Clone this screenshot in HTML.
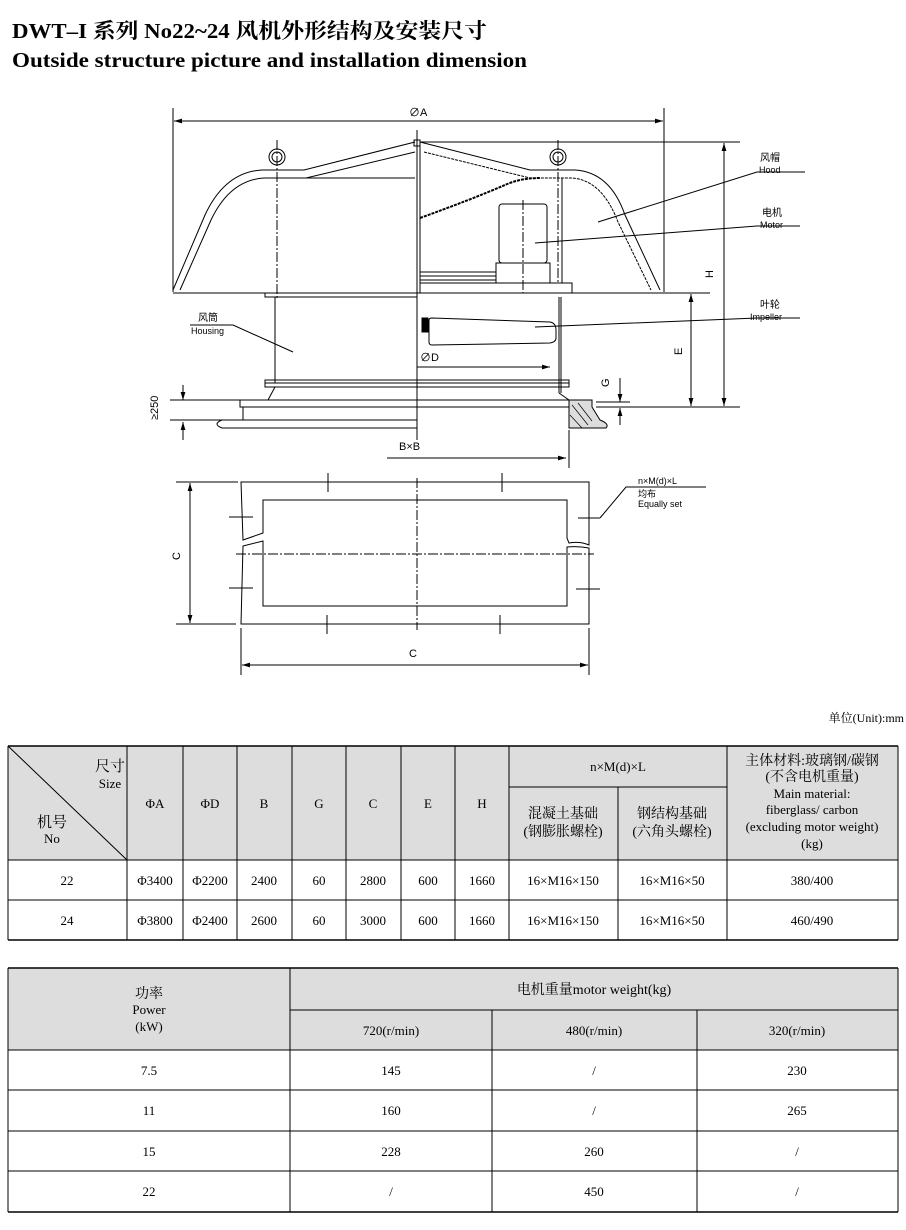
<!DOCTYPE html>
<html><head><meta charset="utf-8"><style>
html,body{margin:0;padding:0;background:#fff;}
svg{display:block;}
.t{font-family:"Liberation Serif","Noto Serif CJK SC",serif;}
.s{font-family:"Liberation Sans","Noto Sans CJK SC",sans-serif;}
</style></head><body>
<svg width="906" height="1230" viewBox="0 0 906 1230" xmlns="http://www.w3.org/2000/svg">
<defs>
<marker id="ar" viewBox="0 0 10 10" refX="10" refY="5" markerWidth="8" markerHeight="8" orient="auto-start-reverse"><path d="M0,2 L10,5 L0,8 z" fill="#000"/></marker>
</defs>
<text x="12" y="38" class="t" font-size="21" font-weight="bold" textLength="475" lengthAdjust="spacingAndGlyphs">DWT–I 系列 No22~24 风机外形结构及安装尺寸</text>
<text x="12" y="67" class="t" font-size="21" font-weight="bold" textLength="515" lengthAdjust="spacingAndGlyphs">Outside structure picture and installation dimension</text>

<g fill="none" stroke="#000" stroke-width="1">
<line x1="173" y1="108" x2="173" y2="292"/><line x1="664" y1="108" x2="664" y2="292"/>
<line x1="174" y1="121" x2="663" y2="121" marker-start="url(#ar)" marker-end="url(#ar)"/>
<path d="M173,290 L205,215 Q225,172 262,170 L304,170 L415,142"/>
<path d="M180,290 L211,220 Q230,180 264,178 L306,178 L415,152"/>
<line x1="306" y1="178" x2="415" y2="178"/>
<path d="M420,142 L530,170 L575,170 Q610,172 625,215 L660,290"/>
<path d="M424,152 L530,178 L572,178 Q602,180 618,222 L651,290" stroke-dasharray="3,1"/>
<path d="M420,218 Q470,200 505,185 Q520,178 540,178" stroke-width="2" stroke-dasharray="3,1"/>
<line x1="173" y1="293" x2="664" y2="293"/>
<rect x="414" y="140" width="6" height="6"/>
<line x1="417" y1="130" x2="417" y2="440"/>
<line x1="420" y1="146" x2="420" y2="293"/>
<circle cx="277" cy="157" r="8"/><circle cx="277" cy="157" r="5"/>
<circle cx="558" cy="157" r="8"/><circle cx="558" cy="157" r="5"/>
<line x1="277" y1="140" x2="277" y2="300" stroke-dasharray="10,2,2,2"/>
<line x1="558" y1="140" x2="558" y2="283" stroke-dasharray="10,2,2,2"/>
<line x1="562" y1="178" x2="562" y2="283"/>
<rect x="499" y="204" width="48" height="59" rx="3"/>
<line x1="523" y1="200" x2="523" y2="293" stroke-dasharray="10,2,2,2"/>
<rect x="496" y="263" width="54" height="20"/>
<line x1="420" y1="272" x2="496" y2="272"/><line x1="420" y1="276" x2="496" y2="276"/><line x1="420" y1="280" x2="496" y2="280"/>
<rect x="420" y="283" width="152" height="10"/>
<rect x="265" y="293" width="152" height="4"/>
<line x1="275" y1="297" x2="275" y2="383"/>
<line x1="559" y1="297" x2="559" y2="393"/>
<line x1="561" y1="297" x2="561" y2="393"/>
<rect x="265" y="380" width="304" height="7"/>
<line x1="265" y1="383" x2="569" y2="383"/>
<path d="M432,318 L550,322 Q556,323 556,330 L556,338 Q556,342 550,343 L432,345 Q429,345 429,342 L429,320 Q429,318 432,318 z"/>
<rect x="422" y="318" width="6" height="14" fill="#000"/>
<line x1="417" y1="367" x2="550" y2="367" marker-end="url(#ar)"/>
<line x1="275" y1="387" x2="268" y2="400"/><line x1="559" y1="393" x2="569" y2="400"/>
<rect x="240" y="400" width="329" height="7"/>
<line x1="243" y1="407" x2="243" y2="420"/>
<line x1="200" y1="420" x2="417" y2="420"/>
<path d="M222,428 L417,428 M222,428 Q212,424 222,420"/>
<path d="M569,400 L592,400 L592,407 L600,420 Q610,424 606,428 L569,428 z" fill="#ddd"/>
<path d="M572,405 L588,425 M578,403 L592,421 M570,415 L582,428" stroke-width="0.7"/>
<line x1="183" y1="385" x2="183" y2="400" marker-end="url(#ar)"/>
<line x1="183" y1="440" x2="183" y2="422" marker-end="url(#ar)"/>
<line x1="170" y1="400" x2="240" y2="400"/><line x1="170" y1="420" x2="220" y2="420"/>
<line x1="420" y1="142" x2="740" y2="142"/><line x1="620" y1="293" x2="710" y2="293"/>
<line x1="596" y1="407" x2="740" y2="407"/><line x1="596" y1="402" x2="630" y2="402"/>
<line x1="724" y1="143" x2="724" y2="406" marker-start="url(#ar)" marker-end="url(#ar)"/>
<line x1="691" y1="294" x2="691" y2="406" marker-start="url(#ar)" marker-end="url(#ar)"/>
<line x1="620" y1="378" x2="620" y2="402" marker-end="url(#ar)"/>
<line x1="620" y1="425" x2="620" y2="408" marker-end="url(#ar)"/>
<line x1="569" y1="430" x2="569" y2="468"/>
<line x1="387" y1="458" x2="566" y2="458" marker-end="url(#ar)"/>
<path d="M598,222 L757,172 L805,172"/>
<path d="M535,243 L757,226 L800,226"/>
<path d="M535,327 L757,318 L800,318"/>
<path d="M190,325 L233,325 L293,352"/>
<path d="M241,482 L589,482 L589,545 Q580,541 569,543 L567,538 L567,500 L263,500 L263,533 L243,540 z"/>
<path d="M243,546 L263,541 L263,606 L567,606 L567,547 Q578,546 589,548 L589,624 L241,624 z"/>
<line x1="417" y1="478" x2="417" y2="630" stroke-dasharray="10,2,2,2"/>
<line x1="236" y1="554" x2="594" y2="554" stroke-dasharray="10,2,2,2"/>
<line x1="328" y1="473" x2="328" y2="492"/><line x1="502" y1="473" x2="502" y2="492"/>
<line x1="327" y1="615" x2="327" y2="634"/><line x1="500" y1="615" x2="500" y2="634"/>
<line x1="229" y1="517" x2="253" y2="517"/><line x1="229" y1="588" x2="253" y2="588"/>
<line x1="578" y1="518" x2="600" y2="518"/><line x1="576" y1="589" x2="600" y2="589"/>
<path d="M600,518 L626,487 L706,487"/>
<line x1="176" y1="482" x2="238" y2="482"/><line x1="176" y1="624" x2="236" y2="624"/>
<line x1="190" y1="483" x2="190" y2="623" marker-start="url(#ar)" marker-end="url(#ar)"/>
<line x1="241" y1="628" x2="241" y2="675"/><line x1="589" y1="628" x2="589" y2="675"/>
<line x1="242" y1="665" x2="588" y2="665" marker-start="url(#ar)" marker-end="url(#ar)"/>
</g>
<g class="s" font-size="10" fill="#000">
<text x="409" y="116" font-size="11">∅A</text>
<text x="420" y="361" font-size="11">∅D</text>
<text x="399" y="450" font-size="11">B×B</text>
<text x="409" y="657" font-size="11">C</text>
<text x="760" y="161">风帽</text><text x="759" y="173" font-size="9">Hood</text>
<text x="762" y="216">电机</text><text x="760" y="228" font-size="9">Motor</text>
<text x="760" y="308">叶轮</text><text x="750" y="320" font-size="9">Impeller</text>
<text x="198" y="321">风筒</text><text x="191" y="334" font-size="9">Housing</text>
<text x="638" y="484" font-size="9">n×M(d)×L</text><text x="638" y="497" font-size="9">均布</text><text x="638" y="507" font-size="9">Equally set</text>
<text transform="translate(713,278) rotate(-90)" font-size="11">H</text>
<text transform="translate(682,355) rotate(-90)" font-size="11">E</text>
<text transform="translate(609,387) rotate(-90)" font-size="11">G</text>
<text transform="translate(158,420) rotate(-90)" font-size="11">≥250</text>
<text transform="translate(180,560) rotate(-90)" font-size="11">C</text>
</g>

<text x="904" y="722" text-anchor="end" class="t" font-size="12">单位(Unit):mm</text>

<rect x="8" y="746" width="890" height="114" fill="#ddd"/>
<g stroke="#000" stroke-width="1" fill="none">
<line x1="8" y1="746" x2="898" y2="746" stroke-width="1.5"/>
<line x1="8" y1="860" x2="898" y2="860"/>
<line x1="8" y1="900" x2="898" y2="900"/>
<line x1="8" y1="940" x2="898" y2="940" stroke-width="1.5"/>
<line x1="509" y1="787" x2="727" y2="787"/>
<line x1="8" y1="746" x2="8" y2="940"/>
<line x1="127" y1="746" x2="127" y2="940"/><line x1="183" y1="746" x2="183" y2="940"/><line x1="237" y1="746" x2="237" y2="940"/>
<line x1="292" y1="746" x2="292" y2="940"/><line x1="346" y1="746" x2="346" y2="940"/><line x1="401" y1="746" x2="401" y2="940"/>
<line x1="455" y1="746" x2="455" y2="940"/><line x1="509" y1="746" x2="509" y2="940"/><line x1="618" y1="787" x2="618" y2="940"/>
<line x1="727" y1="746" x2="727" y2="940"/><line x1="898" y1="746" x2="898" y2="940"/>
<line x1="8" y1="746" x2="127" y2="860"/>
</g>
<g class="t" font-size="13" fill="#000" text-anchor="middle">
<text x="110" y="771" font-size="15">尺寸</text><text x="110" y="788">Size</text>
<text x="52" y="827" font-size="15">机号</text><text x="52" y="843">No</text>
<text x="155" y="808">ΦA</text><text x="210" y="808">ΦD</text><text x="264" y="808">B</text><text x="319" y="808">G</text>
<text x="373" y="808">C</text><text x="428" y="808">E</text><text x="482" y="808">H</text>
<text x="618" y="771">n×M(d)×L</text>
<text x="563" y="818" font-size="14">混凝土基础</text><text x="563" y="836" font-size="14">(钢膨胀螺栓)</text>
<text x="672" y="818" font-size="14">钢结构基础</text><text x="672" y="836" font-size="14">(六角头螺栓)</text>
<text x="812" y="765" font-size="14">主体材料:玻璃钢/碳钢</text>
<text x="812" y="781" font-size="14">(不含电机重量)</text>
<text x="812" y="798">Main material:</text><text x="812" y="814">fiberglass/ carbon</text>
<text x="812" y="831">(excluding motor weight)</text><text x="812" y="848">(kg)</text>
<text x="67" y="885">22</text><text x="155" y="885">Φ3400</text><text x="210" y="885">Φ2200</text><text x="264" y="885">2400</text><text x="319" y="885">60</text><text x="373" y="885">2800</text><text x="428" y="885">600</text><text x="482" y="885">1660</text><text x="563" y="885">16×M16×150</text><text x="672" y="885">16×M16×50</text><text x="812" y="885">380/400</text>
<text x="67" y="925">24</text><text x="155" y="925">Φ3800</text><text x="210" y="925">Φ2400</text><text x="264" y="925">2600</text><text x="319" y="925">60</text><text x="373" y="925">3000</text><text x="428" y="925">600</text><text x="482" y="925">1660</text><text x="563" y="925">16×M16×150</text><text x="672" y="925">16×M16×50</text><text x="812" y="925">460/490</text>
</g>

<rect x="8" y="968" width="890" height="82" fill="#ddd"/>
<g stroke="#000" stroke-width="1" fill="none">
<line x1="8" y1="968" x2="898" y2="968" stroke-width="1.5"/>
<line x1="290" y1="1010" x2="898" y2="1010"/>
<line x1="8" y1="1050" x2="898" y2="1050"/><line x1="8" y1="1090" x2="898" y2="1090"/>
<line x1="8" y1="1131" x2="898" y2="1131"/><line x1="8" y1="1171" x2="898" y2="1171"/>
<line x1="8" y1="1212" x2="898" y2="1212" stroke-width="1.5"/>
<line x1="8" y1="968" x2="8" y2="1212"/><line x1="290" y1="968" x2="290" y2="1212"/>
<line x1="492" y1="1010" x2="492" y2="1212"/><line x1="697" y1="1010" x2="697" y2="1212"/>
<line x1="898" y1="968" x2="898" y2="1212"/>
</g>
<g class="t" font-size="13" fill="#000" text-anchor="middle">
<text x="149" y="998" font-size="14">功率</text><text x="149" y="1014">Power</text><text x="149" y="1031">(kW)</text>
<text x="594" y="994" font-size="14">电机重量motor weight(kg)</text>
<text x="391" y="1035">720(r/min)</text><text x="594" y="1035">480(r/min)</text><text x="797" y="1035">320(r/min)</text>
<text x="149" y="1075">7.5</text><text x="391" y="1075">145</text><text x="594" y="1075">/</text><text x="797" y="1075">230</text>
<text x="149" y="1115">11</text><text x="391" y="1115">160</text><text x="594" y="1115">/</text><text x="797" y="1115">265</text>
<text x="149" y="1156">15</text><text x="391" y="1156">228</text><text x="594" y="1156">260</text><text x="797" y="1156">/</text>
<text x="149" y="1196">22</text><text x="391" y="1196">/</text><text x="594" y="1196">450</text><text x="797" y="1196">/</text>
</g>
</svg>
</body></html>
